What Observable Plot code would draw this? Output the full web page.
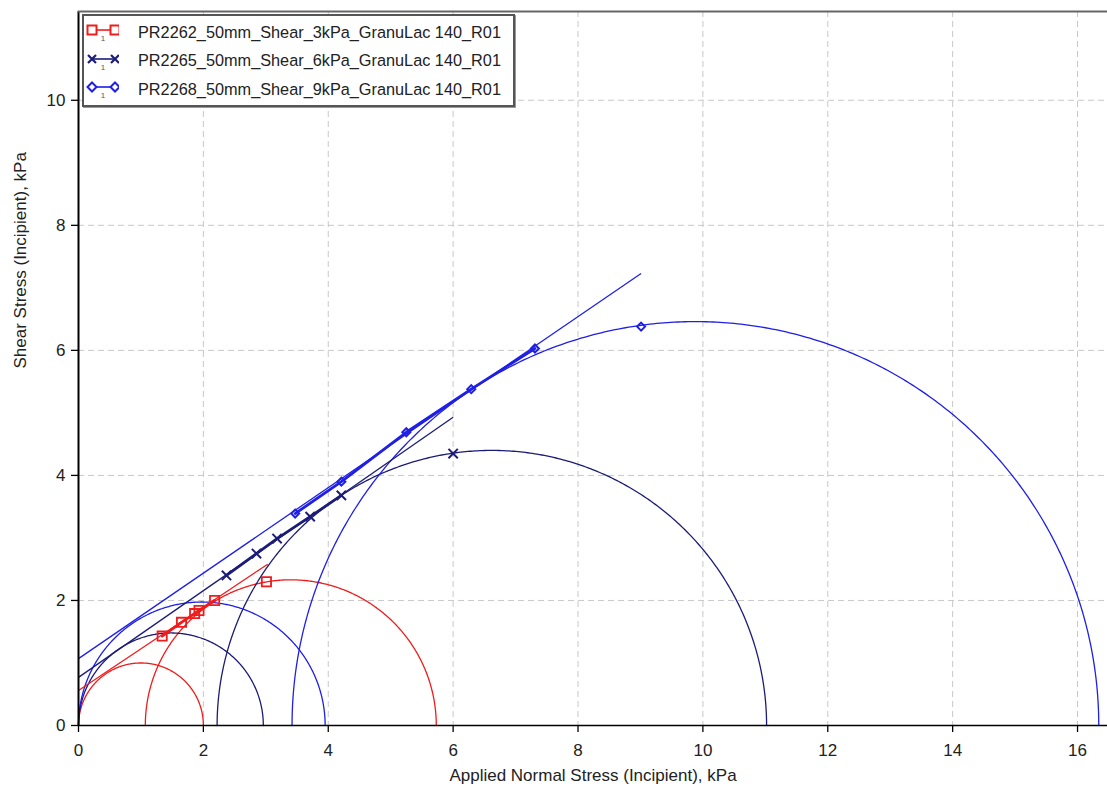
<!DOCTYPE html>
<html>
<head>
<meta charset="utf-8">
<script src="https://cdn.jsdelivr.net/npm/d3@7"></script>
<script src="https://cdn.jsdelivr.net/npm/@observablehq/plot@0.6"></script>
<style>
  html, body { margin: 0; padding: 0; background: #fff; }
  #wrap { position: relative; width: 1107px; height: 789px; font-family: "Liberation Sans", Arial, sans-serif; }
  #legend { position: absolute; left: 82px; top: 14px; width: 429px; height: 89px; border: 2px solid #555; background: #fff; box-shadow: 1px 1px 0 #999; }
  .row { position: absolute; left: 0; height: 28px; display: flex; align-items: center; font-size: 16.3px; color: #222; white-space: nowrap; }
  .row svg { margin-left: 1px; margin-right: 19px; }
</style>
</head>
<body>
<div id="wrap"></div>
<script>
// ---- series ----
const seriesNames = [
  "PR2262_50mm_Shear_3kPa_GranuLac 140_R01",
  "PR2265_50mm_Shear_6kPa_GranuLac 140_R01",
  "PR2268_50mm_Shear_9kPa_GranuLac 140_R01"
];
const seriesColors = ["#f01c1c", "#1c1c78", "#1f1fe6"];
const seriesSymbols = ["square", "times", "diamond2"];

// ---- incipient yield points (normal stress, shear stress), kPa ----
const redX  = [1.34, 1.65, 1.86, 1.93, 2.18];
const redY  = [1.43, 1.65, 1.79, 1.84, 2.00];
const navyX = [2.37, 2.85, 3.18, 3.71, 4.21];
const navyY = [2.40, 2.75, 2.99, 3.34, 3.68];
const blueX = [3.47, 4.21, 5.25, 6.29, 7.31];
const blueY = [3.39, 3.90, 4.69, 5.38, 6.03];

// ---- pre-shear points ----
const preShearX = [3.01, 6.00, 9.01];
const preShearY = [2.30, 4.35, 6.38];

// ---- Mohr circles: unconfined (0 .. fc) and consolidation (s3 .. s1) ----
const unconfinedFc = [2.00, 2.96, 3.95];
const consolSigma3 = [1.07, 2.22, 3.42];
const consolSigma1 = [5.73, 11.02, 16.34];

// ---- yield locus lines (start / end) ----
const locusX0 = [0, 0, 0];
const locusY0 = [0.56, 0.77, 1.07];
const locusX1 = [3.03, 6.00, 9.01];
const locusY1 = [2.58, 4.93, 7.23];

// ---- tick labels ----
const xTicks = [0, 2, 4, 6, 8, 10, 12, 14, 16];
const yTicks = [0, 2, 4, 6, 8, 10];

// ---- build tables ----
const pointsX = [redX, navyX, blueX];
const pointsY = [redY, navyY, blueY];
const yieldPts = [];
pointsX.forEach((xs, s) => xs.forEach((x, i) => yieldPts.push({s, x, y: pointsY[s][i]})));
const prePts = preShearX.map((x, s) => ({s, x, y: preShearY[s]}));

const arcs = [];
function addArc(s, id, a, b) {
  const c = (a + b) / 2, r = (b - a) / 2;
  for (let k = 0; k <= 360; k++) {
    const t = Math.PI * k / 360;
    arcs.push({s, id, x: c + r * Math.cos(t), y: r * Math.sin(t)});
  }
}
for (let s = 0; s < 3; s++) {
  addArc(s, s * 2, 0, unconfinedFc[s]);
  addArc(s, s * 2 + 1, consolSigma3[s], consolSigma1[s]);
}
const locus = [];
for (let s = 0; s < 3; s++) {
  locus.push({s, x1: locusX0[s], y1: locusY0[s], x2: locusX1[s], y2: locusY1[s]});
}

const colorOf = d => seriesColors[d.s];
const font = "'Liberation Sans', Arial, sans-serif";
const allPts = yieldPts.concat(prePts);

const chart = Plot.plot({
  width: 1107,
  height: 789,
  marginLeft: 78,
  marginRight: 0,
  marginTop: 11,
  marginBottom: 64,
  style: {fontFamily: font, fontSize: "17px", color: "#222", background: "#fff"},
  x: {domain: [0, 16.48], label: null},
  y: {domain: [0, 11.42], label: null},
  marks: [
    Plot.gridX(xTicks.filter(d => d > 0), {stroke: "#c8c8c8", strokeOpacity: 1, strokeDasharray: "6,4"}),
    Plot.gridY(yTicks.filter(d => d > 0), {stroke: "#c8c8c8", strokeOpacity: 1, strokeDasharray: "6,4"}),
    Plot.line(arcs, {x: "x", y: "y", z: "id", stroke: colorOf, strokeWidth: 1.3}),
    Plot.link(locus, {x1: "x1", y1: "y1", x2: "x2", y2: "y2", stroke: colorOf, strokeWidth: 1.3}),
    Plot.line(yieldPts, {x: "x", y: "y", z: "s", stroke: colorOf, strokeWidth: 2.8}),
    Plot.dot(allPts.filter(d => d.s === 0), {x: "x", y: "y", symbol: seriesSymbols[0], stroke: seriesColors[0], fill: "none", r: 5.2, strokeWidth: 1.8}),
    Plot.dot(allPts.filter(d => d.s === 1), {x: "x", y: "y", symbol: seriesSymbols[1], stroke: seriesColors[1], fill: "none", r: 4.3, strokeWidth: 2}),
    Plot.dot(allPts.filter(d => d.s === 2), {x: "x", y: "y", symbol: seriesSymbols[2], stroke: seriesColors[2], fill: "none", r: 3.6, strokeWidth: 2}),
    Plot.axisX(xTicks, {tickSize: 7, tickPadding: 11, stroke: "#000", strokeWidth: 1.3, fontSize: 17, fill: "#222", label: null, tickFormat: d => String(d)}),
    Plot.axisY(yTicks, {tickSize: 7, tickPadding: 6, stroke: "#000", strokeWidth: 1.3, fontSize: 17, fill: "#222", label: null, tickFormat: d => String(d)}),
    Plot.ruleY([0], {stroke: "#000", strokeWidth: 1.5}),
    Plot.ruleX([0], {stroke: "#000", strokeWidth: 2}),
    Plot.ruleY([11.42], {stroke: "#666", strokeWidth: 2}),
    Plot.text(["Applied Normal Stress (Incipient), kPa"], {frameAnchor: "bottom", dy: 55, fontSize: 17, fill: "#222"}),
    Plot.text(["Shear Stress (Incipient), kPa"], {frameAnchor: "left", dx: -58, rotate: -90, fontSize: 17, fill: "#222"})
  ]
});

const wrap = document.getElementById("wrap");
wrap.appendChild(chart);

// ---- legend ----
const legend = document.createElement("div");
legend.id = "legend";
seriesNames.forEach((name, s) => {
  const row = document.createElement("div");
  row.className = "row";
  row.style.top = (2 + s * 28.5) + "px";
  const c = seriesColors[s];
  let mk;
  if (s === 0) mk = x => `<rect x="${x-4.5}" y="5.5" width="9" height="9" fill="#fff" stroke="${c}" stroke-width="2"/>`;
  else if (s === 1) mk = x => `<path d="M${x-4},6L${x+4},14M${x-4},14L${x+4},6" stroke="${c}" stroke-width="2.2"/>`;
  else mk = x => `<path d="M${x},5.5L${x+4.5},10L${x},14.5L${x-4.5},10Z" fill="#fff" stroke="${c}" stroke-width="2"/>`;
  row.innerHTML = `<svg width="34" height="24" viewBox="0 0 34 24">
      <line x1="7" y1="10" x2="30" y2="10" stroke="${c}" stroke-width="1.6"/>
      ${mk(7)}${mk(30)}
      <text x="18" y="21" font-size="8" fill="#555" text-anchor="middle" font-family="${font}">1</text>
    </svg><span>${name}</span>`;
  legend.appendChild(row);
});
wrap.appendChild(legend);
</script>
</body>
</html>
